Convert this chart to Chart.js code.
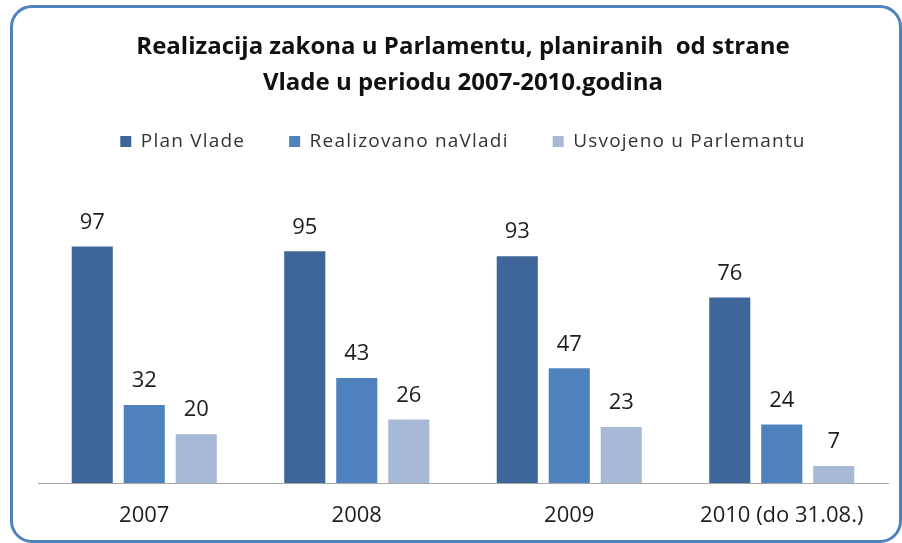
<!DOCTYPE html>
<html>
<head>
<meta charset="utf-8">
<script src="https://cdn.jsdelivr.net/npm/chart.js@4.4.0/dist/chart.umd.min.js"></script>
<style>
  body { margin: 0; background: #fff; }
  #wrap { position: relative; width: 902px; height: 543px; overflow: hidden; }
  #frame {
    position: absolute; left: 10px; top: 5px; width: 886px; height: 532px;
    border: 3px solid rgb(79, 129, 189); border-radius: 22px;
  }
  canvas { position: absolute; left: 0; top: 0; }
</style>
</head>
<body>
<div id="wrap">
  <div id="frame"></div>
  <canvas id="myChart" width="902" height="543"></canvas>
</div>
<script>
var years = ['2007', '2008', '2009', '2010 (do 31.08.)'];
var planVlade = [97, 95, 93, 76];
var realizovano = [32, 43, 47, 24];
var usvojeno = [20, 26, 23, 7];

// numbers above the bars
var valueLabels = {
  id: 'valueLabels',
  afterInit: function(chart) {
    // the legend text in the original is spaced out a bit
    var legend = chart.legend;
    var fit = legend.fit, draw = legend.draw;
    legend.fit = function() {
      chart.ctx.save();
      chart.ctx.letterSpacing = '1.2px';
      fit.apply(this, arguments);
      chart.ctx.restore();
    };
    legend.draw = function() {
      chart.ctx.save();
      chart.ctx.letterSpacing = '1.2px';
      draw.apply(this, arguments);
      chart.ctx.restore();
    };
  },
  afterDatasetsDraw: function(chart) {
    var ctx = chart.ctx;
    ctx.save();
    ctx.font = '22px "Open Sans"';
    ctx.fillStyle = '#1e1e1e';
    ctx.textAlign = 'center';
    ctx.textBaseline = 'middle';
    chart.data.datasets.forEach(function(ds, i) {
      chart.getDatasetMeta(i).data.forEach(function(bar, j) {
        ctx.fillText(ds.data[j], bar.x, bar.y - 24);
      });
    });
    ctx.restore();
  }
};

var ctx = document.getElementById('myChart').getContext('2d');
var chart = new Chart(ctx, {
  type: 'bar',
  data: {
    labels: years,
    datasets: [{
      label: 'Plan Vlade',
      backgroundColor: 'rgb(62, 102, 152)',
      data: planVlade
    }, {
      label: 'Realizovano naVladi',
      backgroundColor: 'rgb(79, 129, 189)',
      data: realizovano
    }, {
      label: 'Usvojeno u Parlemantu',
      backgroundColor: 'rgb(168, 185, 216)',
      data: usvojeno
    }]
  },
  options: {
    responsive: false,
    animation: false,
    categoryPercentage: 0.734,
    barPercentage: 0.79,
    layout: { padding: { left: 38, right: 14, top: 0, bottom: 13 } },
    plugins: {
      title: {
        display: true,
        text: ['Realizacija zakona u Parlamentu, planiranih  od strane', 'Vlade u periodu 2007-2010.godina'],
        font: { family: 'Open Sans', size: 24, weight: 'bold', lineHeight: '36px' },
        color: '#111',
        padding: { top: 29, bottom: -13 }
      },
      legend: {
        labels: {
          font: { family: 'Open Sans', size: 19 },
          color: '#333',
          boxWidth: 11,
          boxHeight: 11,
          padding: 44
        }
      },
      tooltip: { enabled: false }
    },
    scales: {
      x: {
        grid: { display: false, drawTicks: false },
        border: { display: true, color: '#a6a6a6', width: 1 },
        ticks: { font: { family: 'Open Sans', size: 22 }, color: '#1e1e1e', padding: 20 },
        afterFit: function(scale) { scale.height = 47; }
      },
      y: {
        display: false,
        min: 0,
        max: 132
      }
    }
  },
  plugins: [valueLabels]
});
</script>
</body>
</html>
